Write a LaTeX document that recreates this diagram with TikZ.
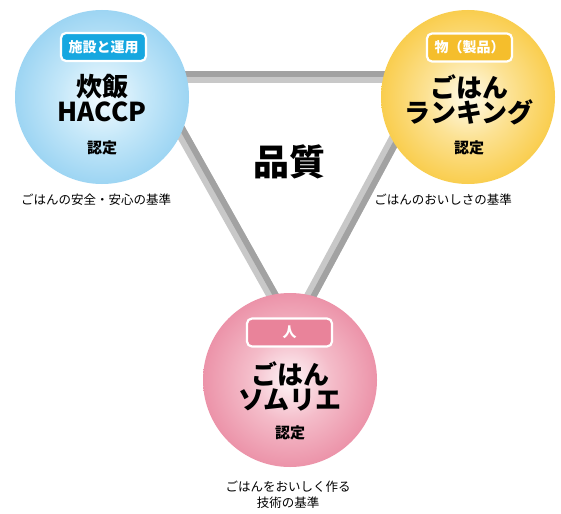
\documentclass[tikz,border=0pt]{standalone}
\usepackage{fontspec}
\newfontfamily\jp{Noto Sans CJK JP}
\usetikzlibrary{calc}
\definecolor{barDark}{HTML}{A2A2A2}
\definecolor{barLight}{HTML}{C8C8C8}
\definecolor{blueEdge}{HTML}{8ACCF0}
\definecolor{blueMid}{HTML}{C6E8F9}
\definecolor{blueIn}{HTML}{F4FBFF}
\definecolor{blueTag}{HTML}{16A7E0}
\definecolor{yelEdge}{HTML}{F8C42E}
\definecolor{yelMid}{HTML}{FCE294}
\definecolor{yelIn}{HTML}{FFFBEC}
\definecolor{yelTag}{HTML}{F5BE2C}
\definecolor{pinkEdge}{HTML}{E8809A}
\definecolor{pinkMid}{HTML}{F4BCC9}
\definecolor{pinkIn}{HTML}{FEF6F8}
\definecolor{pinkTag}{HTML}{E9839A}
\pgfdeclareradialshading{blueball}{\pgfpoint{0bp}{0bp}}{color(0bp)=(blueIn); color(12bp)=(blueMid); color(31bp)=(blueEdge); color(100bp)=(blueEdge)}
\pgfdeclareradialshading{yelball}{\pgfpoint{0bp}{0bp}}{color(0bp)=(yelIn); color(12bp)=(yelMid); color(31bp)=(yelEdge); color(100bp)=(yelEdge)}
\pgfdeclareradialshading{pinkball}{\pgfpoint{0bp}{0bp}}{color(0bp)=(pinkIn); color(12bp)=(pinkMid); color(31bp)=(pinkEdge); color(100bp)=(pinkEdge)}
\tikzset{
  ball/.style={circle, minimum size=174pt, inner sep=0pt},
  tagbox/.style={rounded corners=5pt, draw=white, line width=2.2pt, minimum width=85pt, minimum height=28pt, inner sep=0pt, text=white, font=\jp\bfseries\fontsize{14}{14}\selectfont},
  title/.style={align=center, font=\jp\bfseries\fontsize{26}{26}\selectfont, text=black},
  cert/.style={font=\jp\bfseries\fontsize{15}{15}\selectfont},
  caption/.style={align=center, font=\jp\fontsize{12.5}{15.5}\selectfont},
  lightbar/.style={barLight, line width=12pt},
  darkbar/.style={barDark, line width=6pt}
}
\begin{document}
\begin{tikzpicture}[x=1pt,y=-1pt]
\useasboundingbox[fill=white] (0,0) rectangle (561,513);
% bar triangle
\coordinate (A) at (150,77);
\coordinate (B) at (428,77);
\coordinate (C) at (292,330);
\draw[lightbar] (A) -- (B);
\draw[darkbar] ($(A)+(0,-3)$) -- ($(B)+(0,-3)$);
\draw[lightbar] (A) -- (C);
\draw[darkbar] ($(A)+(2.6,-1.5)$) -- ($(C)+(2.6,-1.5)$);
\draw[lightbar] (B) -- (C);
\draw[darkbar] ($(B)+(2.64,1.42)$) -- ($(C)+(2.64,1.42)$);
% circles
\node[ball, shade, shading=blueball] (c1) at (102,97) {};
\node[ball, shade, shading=yelball] (c2) at (468,97) {};
\node[ball, shade, shading=pinkball] (c3) at (290,380) {};
% blue contents
\node[tagbox, fill=blueTag] (t1) at (103.5,47) {施設と運用};
\node[title] (n1) at (102,98.5) {炊飯\\[-1pt]HACCP};
\node[cert] (r1) at (102,148) {認定};
\node[caption] (k1) at (96,200) {ごはんの安全・安心の基準};
% yellow contents
\node[tagbox, fill=yelTag] (t2) at (469.5,47.5) {物（製品）};
\node[title] (n2) at (469,100) {ごはん\\[-1pt]ランキング};
\node[cert] (r2) at (469,148) {認定};
\node[caption] (k2) at (443,200) {ごはんのおいしさの基準};
% pink contents
\node[tagbox, fill=pinkTag] (t3) at (289.5,332.5) {人};
\node[title] (n3) at (290,386.5) {ごはん\\[-1pt]ソムリエ};
\node[cert] (r3) at (290,433) {認定};
\node[caption] (k3) at (288,494.5) {ごはんをおいしく作る\\技術の基準};
% center
\node[font=\jp\bfseries\fontsize{36}{36}\selectfont] (q) at (289,162) {品質};
\end{tikzpicture}
\end{document}
